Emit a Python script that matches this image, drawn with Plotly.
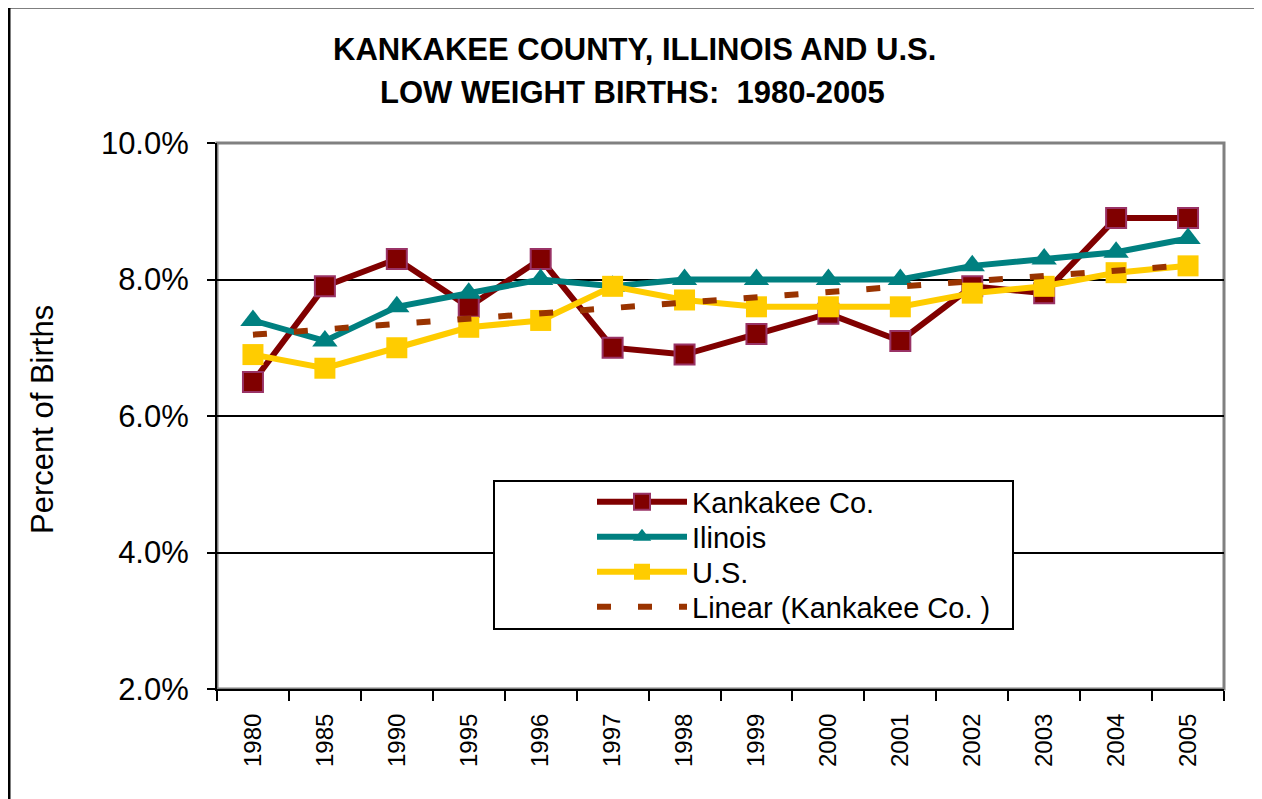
import numpy as np
import plotly.graph_objects as go

years = ["1980", "1985", "1990", "1995", "1996", "1997", "1998", "1999",
         "2000", "2001", "2002", "2003", "2004", "2005"]
kankakee = [6.5, 7.9, 8.3, 7.6, 8.3, 7.0, 6.9, 7.2, 7.5, 7.1, 7.9, 7.8, 8.9, 8.9]
illinois = [7.4, 7.1, 7.6, 7.8, 8.0, 7.9, 8.0, 8.0, 8.0, 8.0, 8.2, 8.3, 8.4, 8.6]
us = [6.9, 6.7, 7.0, 7.3, 7.4, 7.9, 7.7, 7.6, 7.6, 7.6, 7.8, 7.9, 8.1, 8.2]
y_ticks = [2, 4, 6, 8, 10]
y_tick_text = ["2.0%", "4.0%", "6.0%", "8.0%", "10.0%"]

# Linear trendline of Kankakee Co. (least squares, as in the original chart)
idx = np.arange(1, len(kankakee) + 1)
slope, intercept = np.polyfit(idx, kankakee, 1)
trend = list(slope * idx + intercept)

FONT = "Liberation Sans, Arial, sans-serif"

fig = go.Figure()
fig.add_trace(go.Scatter(
    x=years, y=kankakee, name="Kankakee Co.", mode="lines+markers",
    line=dict(color="#800000", width=6), legend="legend",
    marker=dict(symbol="square", size=20, color="#800000",
                line=dict(color="#993366", width=2))))
fig.add_trace(go.Scatter(
    x=years, y=illinois, name="Ilinois", mode="lines+markers",
    line=dict(color="#008080", width=6), legend="legend2",
    marker=dict(symbol="triangle-up", size=22, color="#008080")))
fig.add_trace(go.Scatter(
    x=years, y=us, name="U.S.", mode="lines+markers",
    line=dict(color="#FFCC00", width=6), legend="legend3",
    marker=dict(symbol="square", size=21, color="#FFCC00")))
fig.add_trace(go.Scatter(
    x=years, y=trend, name="Linear (Kankakee Co. )", mode="lines",
    line=dict(color="#993300", width=6, dash="14px,27px"), legend="legend4"))

# page has an 8px body margin; figure is sized so that it fills the window
W, H = 1254, 791
L, R, T, B = 209, 38, 135, 110

def px(x):
    # image x coordinate -> paper fraction
    return (x - 217) / 1007

def py(y):
    # image y coordinate -> paper fraction
    return (689 - y) / 546

def leg(yc):
    return dict(
        x=px(592), y=py(yc), xanchor="left", yanchor="middle",
        bgcolor="rgba(0,0,0,0)", borderwidth=0,
        font=dict(size=29, family=FONT, color="black"),
        itemwidth=90,
    )

fig.update_layout(
    width=W, height=H,
    margin=dict(l=L, r=R, t=T, b=B, autoexpand=False),
    paper_bgcolor="white", plot_bgcolor="white",
    font=dict(family=FONT, color="black"),
    showlegend=True,
    legend=leg(502), legend2=leg(537), legend3=leg(572), legend4=leg(607),
    xaxis=dict(
        type="category", tickson="boundaries", ticks="outside", ticklen=10,
        tickwidth=2, tickcolor="black", showline=True, linecolor="black",
        linewidth=2, showgrid=False, tickangle=-90,
        tickfont=dict(size=24, family=FONT, color="black"),
        ticklabelstandoff=13, range=[-0.5, 13.5],
    ),
    yaxis=dict(
        range=[2, 10], tickvals=y_ticks, ticktext=y_tick_text,
        ticks="outside", ticklen=8, tickwidth=2, tickcolor="black",
        showline=True, linecolor="black", linewidth=2,
        showgrid=True, gridcolor="black", gridwidth=1.5,
        tickfont=dict(size=31, family=FONT, color="black"),
        ticklabelstandoff=12, zeroline=False,
    ),
    shapes=[
        dict(type="rect", xref="paper", yref="paper", x0=0, y0=0, x1=1, y1=1,
             line=dict(color="#808080", width=3), layer="between"),
        dict(type="rect", xref="paper", yref="paper",
             x0=px(494), x1=px(1013), y0=py(629), y1=py(481),
             line=dict(color="black", width=2), fillcolor="white", layer="above"),
        dict(type="rect", xref="paper", yref="paper",
             x0=px(9), x1=px(1300), y0=py(830), y1=py(7),
             line=dict(color="black", width=3), layer="above"),
    ],
    annotations=[
        dict(text="<b>KANKAKEE COUNTY, ILLINOIS AND U.S.</b>", xref="paper", yref="paper",
             x=px(634), y=py(50), xanchor="center", yanchor="middle", showarrow=False,
             font=dict(size=31, family=FONT, color="black")),
        dict(text="<b>LOW WEIGHT BIRTHS:  1980-2005</b>", xref="paper", yref="paper",
             x=px(632), y=py(92), xanchor="center", yanchor="middle", showarrow=False,
             font=dict(size=31, family=FONT, color="black")),
        dict(text="Percent of Births", xref="paper", yref="paper",
             x=px(42), y=py(420), xanchor="center", yanchor="middle", showarrow=False,
             textangle=-90, font=dict(size=31, family=FONT, color="black")),
    ],
)

fig.write_html("out.html")
